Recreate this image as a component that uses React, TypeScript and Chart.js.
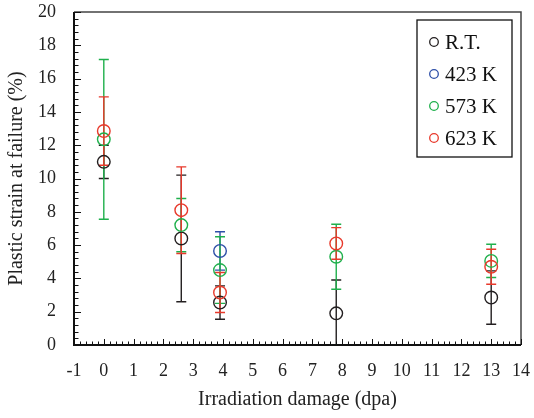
import React, { useEffect, useRef } from "react";
import { Chart, registerables } from "chart.js";

Chart.register(...registerables);

// ---- Data ----
const seriesNames = ["R.T.", "423 K", "573 K", "623 K"];
const seriesColors = ["#231F20", "#2E4FA8", "#1FB04C", "#E8392B"];

const xRT = [0, 2.6, 3.9, 7.8, 13];
const yRT = [11.0, 6.4, 2.55, 1.9, 2.85];
const eRT = [1.0, 3.8, 1.0, 2.0, 1.6];

const x423 = [3.9];
const y423 = [5.65];
const e423 = [1.15];

const x573 = [0, 2.6, 3.9, 7.8, 13];
const y573 = [12.35, 7.2, 4.5, 5.3, 5.05];
const e573 = [4.8, 1.6, 2.0, 1.95, 1.0];

const x623 = [0, 2.6, 3.9, 7.8, 13];
const y623 = [12.85, 8.1, 3.15, 6.1, 4.7];
const e623 = [2.05, 2.6, 1.2, 0.95, 1.05];

const xTitle = "Irradiation damage (dpa)";
const yTitle = "Plastic strain at failure (%)";

const xs = [xRT, x423, x573, x623];
const ys = [yRT, y423, y573, y623];
const es = [eRT, e423, e573, e623];

const FONT = "'Liberation Serif', 'Times New Roman', serif";

const errorBarPlugin = {
  id: "errorBars",
  beforeDatasetsDraw(chart: any) {
    const ctx = chart.ctx;
    const xs_ = chart.scales.x;
    const ys_ = chart.scales.y;
    const area = chart.chartArea;
    ctx.save();
    ctx.beginPath();
    ctx.rect(area.left, area.top, area.right - area.left, area.bottom - area.top);
    ctx.clip();
    ctx.lineWidth = 1.4;
    for (let s = 0; s < xs.length; s++) {
      ctx.strokeStyle = seriesColors[s];
      for (let i = 0; i < xs[s].length; i++) {
        const px = xs_.getPixelForValue(xs[s][i]);
        const top = ys_.getPixelForValue(ys[s][i] + es[s][i]);
        const bot = ys_.getPixelForValue(ys[s][i] - es[s][i]);
        ctx.beginPath();
        ctx.moveTo(px, top);
        ctx.lineTo(px, bot);
        ctx.moveTo(px - 5, top);
        ctx.lineTo(px + 5, top);
        ctx.moveTo(px - 5, bot);
        ctx.lineTo(px + 5, bot);
        ctx.stroke();
      }
    }
    ctx.restore();
  },
};

const framePlugin = {
  id: "frameTicks",
  afterDraw(chart: any) {
    const ctx = chart.ctx;
    const { left, right, top, bottom } = chart.chartArea;
    const sx = chart.scales.x;
    const sy = chart.scales.y;
    ctx.save();
    // top & right frame
    ctx.strokeStyle = "#444";
    ctx.lineWidth = 1.5;
    ctx.beginPath();
    ctx.moveTo(left, top);
    ctx.lineTo(right, top);
    ctx.lineTo(right, bottom);
    ctx.stroke();
    // left & bottom axes
    ctx.strokeStyle = "#111";
    ctx.lineWidth = 2;
    ctx.beginPath();
    ctx.moveTo(left, top);
    ctx.lineTo(left, bottom);
    ctx.lineTo(right, bottom);
    ctx.stroke();
    // ticks
    ctx.lineWidth = 1;
    ctx.strokeStyle = "#111";
    ctx.beginPath();
    const xMin = sx.min, xMax = sx.max;
    const nx = Math.round((xMax - xMin) / 0.2);
    for (let k = 0; k <= nx; k++) {
      const v = xMin + k * 0.2;
      const p = Math.round(sx.getPixelForValue(v)) + 0.5;
      const len = k % 5 === 0 ? 6 : 3.5;
      ctx.moveTo(p, bottom);
      ctx.lineTo(p, bottom - len);
    }
    const yMin = sy.min, yMax = sy.max;
    const ny = Math.round((yMax - yMin) / 0.4);
    for (let k = 0; k <= ny; k++) {
      const v = yMin + k * 0.4;
      const p = Math.round(sy.getPixelForValue(v)) + 0.5;
      const len = k % 5 === 0 ? 7 : 4.5;
      ctx.moveTo(left, p);
      ctx.lineTo(left + len, p);
    }
    ctx.stroke();

    // legend box
    const bx = right - 104;
    const by = top + 8;
    const bw = 95;
    const bh = 137;
    ctx.strokeStyle = "#111";
    ctx.lineWidth = 1.3;
    ctx.strokeRect(bx, by, bw, bh);
    ctx.font = `21px ${FONT}`;
    ctx.textBaseline = "middle";
    ctx.textAlign = "left";
    for (let s = 0; s < seriesNames.length; s++) {
      const cy = by + 22 + s * 32;
      ctx.strokeStyle = seriesColors[s];
      ctx.lineWidth = 1.3;
      ctx.beginPath();
      ctx.arc(bx + 17, cy, 4.3, 0, Math.PI * 2);
      ctx.stroke();
      ctx.fillStyle = "#111";
      ctx.fillText(seriesNames[s], bx + 28, cy + 1);
    }
    ctx.restore();
  },
};

export default function App() {
  const canvasRef = useRef<HTMLCanvasElement | null>(null);

  useEffect(() => {
    document.body.style.margin = "0";
    const canvas = canvasRef.current;
    if (!canvas) return;
    Chart.defaults.font.family = FONT;
    const datasets = seriesNames.map((name, s) => ({
      label: name,
      data: xs[s].map((x, i) => ({ x, y: ys[s][i] })),
      borderColor: seriesColors[s],
      backgroundColor: "rgba(0,0,0,0)",
      pointStyle: "circle",
      pointRadius: 6.3,
      pointBorderWidth: 1.4,
      showLine: false,
      order: seriesNames.length - s,
    }));
    const chart = new Chart(canvas, {
      type: "scatter",
      data: { datasets },
      plugins: [errorBarPlugin, framePlugin],
      options: {
        animation: false,
        responsive: false,
        devicePixelRatio: 1,
        layout: { padding: { top: 12, right: 13, left: 0, bottom: 0 } },
        plugins: {
          legend: { display: false },
          tooltip: { enabled: false },
        },
        scales: {
          x: {
            type: "linear",
            min: -1,
            max: 14,
            grid: { display: false, drawTicks: false },
            border: { display: false },
            ticks: {
              stepSize: 1,
              autoSkip: false,
              maxRotation: 0,
              padding: 15,
              color: "#222",
              font: { family: FONT, size: 18 },
            },
            title: {
              display: true,
              text: xTitle,
              color: "#222",
              font: { family: FONT, size: 20 },
              padding: { top: 0, bottom: 6 },
            },
            afterFit: (s: any) => {
              s.height = 73;
              s.paddingLeft = 0;
              s.paddingRight = 0;
            },
          },
          y: {
            type: "linear",
            min: 0,
            max: 20,
            grid: { display: false, drawTicks: false },
            border: { display: false },
            ticks: {
              stepSize: 2,
              autoSkip: false,
              padding: 18,
              color: "#222",
              font: { family: FONT, size: 18 },
            },
            title: {
              display: true,
              text: yTitle,
              color: "#222",
              font: { family: FONT, size: 20 },
              padding: { top: 5, bottom: 0 },
            },
            afterFit: (s: any) => {
              s.width = 74;
              s.paddingTop = 0;
              s.paddingBottom = 0;
            },
          },
        },
      },
    } as any);
    return () => chart.destroy();
  }, []);

  return (
    <div style={{ position: "absolute", left: 0, top: 0, width: 534, height: 418, background: "#fff" }}>
      <canvas ref={canvasRef} width={534} height={418} style={{ display: "block" }} />
    </div>
  );
}
